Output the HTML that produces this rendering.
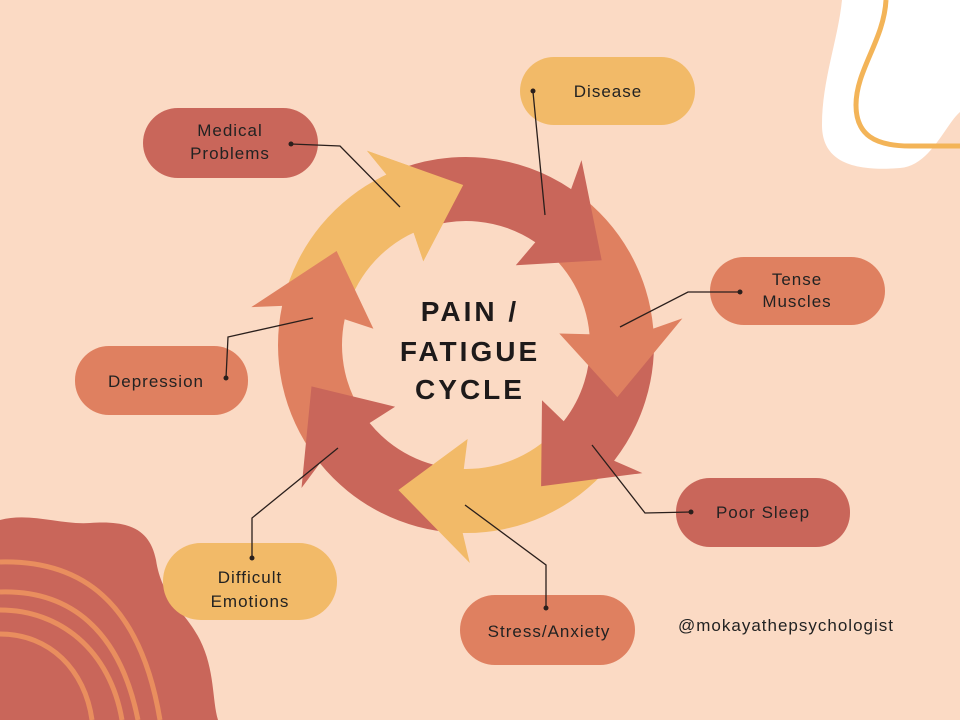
<!DOCTYPE html>
<html><head><meta charset="utf-8"><style>
html,body{margin:0;padding:0}
body{width:960px;height:720px;background:#fbdac4;position:relative;overflow:hidden;font-family:"Liberation Sans",sans-serif}
svg{position:absolute;left:0;top:0}
</style></head><body>
<svg id="s" width="960" height="720" viewBox="0 0 960 720" xmlns="http://www.w3.org/2000/svg">
<path d="M842,0 C838,40 822,80 822,125 C822,160 850,172 900,168 C930,166 945,125 960,112 L960,0 Z" fill="#ffffff"/>
<path d="M886,0 C884,40 856,70 856,105 C856,135 875,146 910,146 L960,146" fill="none" stroke="#f3b458" stroke-width="5"/>
<path d="M0,520 C30,512 60,525 90,523 C130,520 150,530 156,560 C162,600 185,610 200,640 C215,670 212,700 218,720 L0,720 Z" fill="#c9665a"/>
<g fill="none" stroke="#e98e5e" stroke-width="5">
<path d="M0,562 C80,560 140,600 160,720"/>
<path d="M0,592 C70,590 120,630 138,720"/>
<path d="M0,610 C60,610 110,650 122,720"/>
<path d="M0,634 C50,634 85,670 92,720"/>
</g>
<g id="ring"></g>
<rect x="143" y="108" width="175" height="70" rx="35" fill="#c9665a"/>
<rect x="520" y="57" width="175" height="68" rx="34" fill="#f2ba68"/>
<rect x="710" y="257" width="175" height="68" rx="34" fill="#df8060"/>
<rect x="75" y="346" width="173" height="69" rx="34" fill="#df8060"/>
<rect x="676" y="478" width="174" height="69" rx="34" fill="#c9665a"/>
<rect x="163" y="543" width="174" height="77" rx="38" fill="#f2ba68"/>
<rect x="460" y="595" width="175" height="70" rx="35" fill="#df8060"/>
<g fill="none" stroke="#2a1f1c" stroke-width="1.3">
<polyline points="291,144 340,146 400,207"/>
<polyline points="533,91 533,92 545,215"/>
<polyline points="740,292 688,292 620,327"/>
<polyline points="226,378 228,337 313,318"/>
<polyline points="691,512 645,513 592,445"/>
<polyline points="252,558 252,518 338,448"/>
<polyline points="546,608 546,565 465,505"/>
</g>
<g fill="#2a1f1c">
<circle cx="291" cy="144" r="2.5"/><circle cx="533" cy="91" r="2.5"/><circle cx="740" cy="292" r="2.5"/>
<circle cx="226" cy="378" r="2.5"/><circle cx="691" cy="512" r="2.5"/><circle cx="252" cy="558" r="2.5"/><circle cx="546" cy="608" r="2.5"/>
</g>
<g font-family="Liberation Sans, sans-serif" font-size="17" fill="#222" text-anchor="middle" letter-spacing="1">
<text x="230" y="136">Medical</text><text x="230" y="159">Problems</text>
<text x="608" y="97">Disease</text>
<text x="797" y="285">Tense</text><text x="797" y="307">Muscles</text>
<text x="156" y="387">Depression</text>
<text x="763" y="518">Poor Sleep</text>
<text x="250" y="583">Difficult</text><text x="250" y="607">Emotions</text>
<text x="549" y="637">Stress/Anxiety</text>
<text x="786" y="631" font-size="17">@mokayathepsychologist</text>
</g>
<g font-family="Liberation Sans, sans-serif" font-size="28" font-weight="bold" fill="#1e1a1a" text-anchor="middle" letter-spacing="3">
<text x="470" y="321">PAIN /</text><text x="470" y="361">FATIGUE</text><text x="470" y="399">CYCLE</text>
</g>
</svg>
<script>
(function(){
var cx=466,cy=345,ri=124,ro=188,rm=160;
var tips=[269,328,379,422,475,525,576];
var cols=["#f2ba68","#c9665a","#df8060","#c9665a","#f2ba68","#c9665a","#df8060"];
function P(r,a){a=a*Math.PI/180;return (cx+r*Math.cos(a)).toFixed(1)+","+(cy+r*Math.sin(a)).toFixed(1);}
function seg(k,headOnly){
 var t=tips[k],prev=tips[(k+tips.length-1)%tips.length];
 if(prev>t)prev-=360;
 var a0=headOnly?t-26:prev-22,a1=t-24;
 var d="M"+P(ro,a0)+" A"+ro+","+ro+" 0 0 1 "+P(ro,a1)+" L"+P(ro+30,a1-2)+" L"+P(rm,t)+" L"+P(ri-30,a1-2)+" L"+P(ri,a1)+" A"+ri+","+ri+" 0 0 0 "+P(ri,a0)+" Z";
 return '<path d="'+d+'" fill="'+cols[k]+'"/>';
}
var out=seg(0,false);
for(var k=tips.length-1;k>=1;k--) out+=seg(k,false);
out+=seg(0,true);
document.getElementById("ring").innerHTML=out;
})();
</script>
</body></html>
